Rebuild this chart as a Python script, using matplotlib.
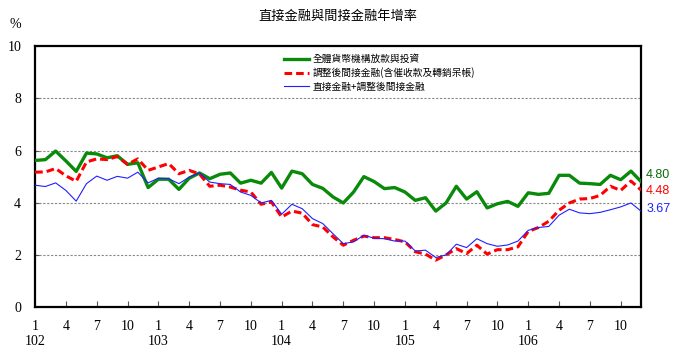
import numpy as np
import matplotlib
matplotlib.use("Agg")
import matplotlib.pyplot as plt
from matplotlib.transforms import blended_transform_factory

plt.rcParams['font.family'] = ['Noto Sans CJK TC', 'DejaVu Sans']

# 102/1 ~ 106/12 (民國年/月)
years = [102, 103, 104, 105, 106]
months = [f"{y}/{m}" for y in years for m in range(1, 13)]

total_credit = [5.62, 5.65, 5.98, 5.60, 5.20, 5.90, 5.87, 5.72, 5.80, 5.47, 5.53, 4.58,
                4.90, 4.90, 4.51, 4.94, 5.14, 4.92, 5.09, 5.14, 4.75, 4.86, 4.75, 5.16,
                4.56, 5.21, 5.11, 4.70, 4.55, 4.22, 3.99, 4.41, 5.00, 4.81, 4.54, 4.58,
                4.41, 4.09, 4.19, 3.68, 3.99, 4.63, 4.14, 4.42, 3.80, 3.96, 4.05, 3.86,
                4.38, 4.32, 4.36, 5.05, 5.05, 4.75, 4.73, 4.70, 5.05, 4.88, 5.21, 4.80]

adj_indirect = [5.17, 5.18, 5.31, 5.03, 4.82, 5.56, 5.68, 5.65, 5.77, 5.47, 5.68, 5.24,
                5.37, 5.50, 5.11, 5.24, 5.10, 4.63, 4.67, 4.60, 4.48, 4.41, 3.94, 4.03,
                3.45, 3.68, 3.60, 3.16, 3.07, 2.69, 2.37, 2.56, 2.72, 2.66, 2.66, 2.59,
                2.50, 2.12, 2.03, 1.80, 2.00, 2.24, 2.05, 2.37, 2.03, 2.20, 2.20, 2.31,
                2.90, 3.05, 3.29, 3.71, 3.99, 4.14, 4.16, 4.28, 4.63, 4.47, 4.83, 4.48]

direct_plus = [4.67, 4.62, 4.76, 4.47, 4.06, 4.73, 5.02, 4.86, 5.01, 4.94, 5.17, 4.76,
               4.94, 4.92, 4.73, 4.98, 5.14, 4.79, 4.73, 4.70, 4.41, 4.28, 3.99, 4.09,
               3.56, 3.94, 3.77, 3.39, 3.20, 2.81, 2.43, 2.50, 2.75, 2.64, 2.62, 2.53,
               2.53, 2.15, 2.18, 1.90, 2.00, 2.41, 2.28, 2.62, 2.43, 2.33, 2.38, 2.53,
               2.94, 3.05, 3.09, 3.52, 3.75, 3.61, 3.58, 3.63, 3.73, 3.84, 3.99, 3.67]

series_names = ['全體貨幣機構放款與投資',
                '調整後間接金融(含催收款及轉銷呆帳)',
                '直接金融+調整後間接金融']

x = np.arange(len(months))

fig = plt.figure(figsize=(6.75, 3.55), dpi=100)
ax = fig.add_axes([0.052, 0.135, 0.898, 0.735])

ax.plot(x, total_credit, color='#0a8a0a', lw=2.4, label=series_names[0], zorder=3)
ax.plot(x, adj_indirect, color='#ff0000', lw=2.2, linestyle=(0, (2.5, 1.3)),
        label=series_names[1], zorder=4)
ax.plot(x, direct_plus, color='#2020ff', lw=0.8, label=series_names[2], zorder=5)

ax.set_xlim(0, len(months) - 1)
ax.set_ylim(0, 10)
ax.set_yticks(range(0, 11, 2))
for g in [2, 4, 6, 8]:
    ax.axhline(g, color='#888888', lw=0.8, linestyle=(0, (2, 1.5)), zorder=1)

# 月份刻度 (每季)
tick_pos = [i for i in x if i % 3 == 0]
tick_lab = []
for i in tick_pos:
    m = i % 12 + 1
    if m == 1:
        tick_lab.append(f"{m}\n{years[i // 12]}")
    else:
        tick_lab.append(str(m))
ax.set_xticks(tick_pos)
ax.set_xticklabels(tick_lab, family='Liberation Serif', fontsize=10, linespacing=1.25)
for lab in ax.get_yticklabels():
    lab.set_family('Liberation Serif')
    lab.set_fontsize(10)
ax.tick_params(axis='x', direction='in', length=4, pad=9, color='#555555')
ax.tick_params(axis='y', direction='in', length=3, pad=10, color='#555555')
for sp in ax.spines.values():
    sp.set_linewidth(1.6)
    sp.set_color('black')

leg = ax.legend(loc='upper left', bbox_to_anchor=(0.397, 1.0), frameon=False,
                fontsize=7, handlelength=2.6, handletextpad=0.4, labelspacing=0.35,
                borderaxespad=0.4)

# 最新值標示
trans = blended_transform_factory(ax.transAxes, ax.transData)
ax.text(1.008, 4.80 + 0.28, f"{total_credit[-1]:.2f}", transform=trans, color='#0a6a0a',
        fontsize=9, family='Liberation Sans', va='center', ha='left', clip_on=False)
ax.text(1.008, 4.48 - 0.02, f"{adj_indirect[-1]:.2f}", transform=trans, color='#ff0000',
        fontsize=9, family='Liberation Sans', va='center', ha='left', clip_on=False)
ax.text(1.008, 3.67 + 0.1, f"{direct_plus[-1]:.2f}", transform=trans, color='#2020ff',
        fontsize=9, family='Liberation Sans', va='center', ha='left', clip_on=False)

fig.text(0.5, 0.955, '直接金融與間接金融年增率', ha='center', va='center', fontsize=9.5)
fig.text(0.022, 0.932, '%', ha='center', va='center', fontsize=10, family='Liberation Serif')

fig.savefig('out.png', dpi=100)
